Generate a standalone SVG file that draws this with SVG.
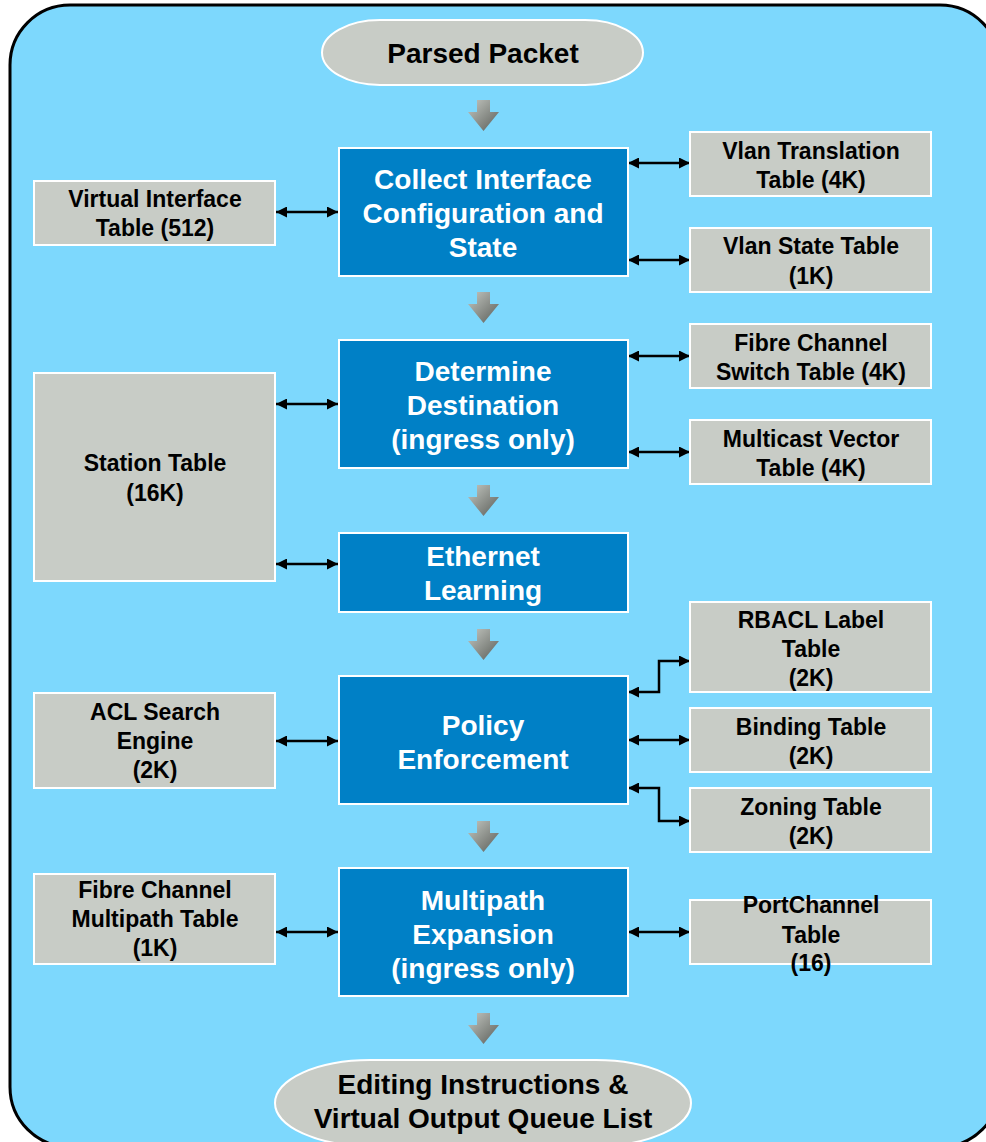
<svg xmlns="http://www.w3.org/2000/svg" width="986" height="1142" viewBox="0 0 986 1142">
<style>
.bg{fill:#7DD8FD;stroke:#000;stroke-width:3}
.blue{fill:#0080C6;stroke:#fff;stroke-width:2}
.gray{fill:#C8CCC6;stroke:#fff;stroke-width:2}
.bt{font-family:"Liberation Sans",Arial,sans-serif;font-weight:bold;font-size:28px;fill:#fff;text-anchor:middle}
.gt{font-family:"Liberation Sans",Arial,sans-serif;font-weight:bold;font-size:23px;fill:#000;text-anchor:middle}
.et{font-family:"Liberation Sans",Arial,sans-serif;font-weight:bold;font-size:28px;fill:#000;text-anchor:middle}
.con{fill:none;stroke:#000;stroke-width:2.5;marker-start:url(#ah);marker-end:url(#ah)}
.down{fill:url(#dg)}
</style>
<defs>
<marker id="ah" viewBox="0 0 10 10" refX="10" refY="5" markerWidth="5" markerHeight="4.4" markerUnits="strokeWidth" orient="auto-start-reverse">
<path d="M0,0 L10,5 L0,10 z" fill="#000"/>
</marker>
<linearGradient id="dg" x1="0" y1="0" x2="1" y2="1">
<stop offset="0" stop-color="#C4C8C2"/>
<stop offset="1" stop-color="#5A5D58"/>
</linearGradient>
<path id="darr" d="M-6.5,0 H6.5 V12 H15.5 L0,31 L-15.5,12 H-6.5 Z"/>
</defs>
<rect class="bg" x="10" y="5" width="990" height="1142" rx="60" ry="60"/>

<g id="down-arrows">
<use href="#darr" class="down" x="483.5" y="100"/>
<use href="#darr" class="down" x="483.5" y="292"/>
<use href="#darr" class="down" x="483.5" y="485"/>
<use href="#darr" class="down" x="483.5" y="629"/>
<use href="#darr" class="down" x="483.5" y="821"/>
<use href="#darr" class="down" x="483.5" y="1013"/>
</g>

<g id="connectors">
<line class="con" x1="276" y1="212" x2="338" y2="212"/>
<line class="con" x1="628" y1="163" x2="690" y2="163"/>
<line class="con" x1="628" y1="260" x2="690" y2="260"/>
<line class="con" x1="628" y1="356" x2="690" y2="356"/>
<line class="con" x1="628" y1="452" x2="690" y2="452"/>
<line class="con" x1="276" y1="404" x2="338" y2="404"/>
<line class="con" x1="276" y1="564" x2="338" y2="564"/>
<line class="con" x1="276" y1="741" x2="338" y2="741"/>
<polyline class="con" points="628,692 659,692 659,661 690,661"/>
<line class="con" x1="628" y1="740" x2="690" y2="740"/>
<polyline class="con" points="628,788 659,788 659,821 690,821"/>
<line class="con" x1="276" y1="932" x2="338" y2="932"/>
<line class="con" x1="628" y1="932" x2="690" y2="932"/>
</g>

<g id="parsed-packet">
<rect class="gray" x="322" y="20" width="321" height="65" rx="58" ry="32.5"/>
<text class="et" x="483" y="63">Parsed Packet</text>
</g>

<g id="collect-interface">
<rect class="blue" x="339" y="148" width="289" height="128"/>
<text class="bt" x="483" y="189">Collect Interface</text>
<text class="bt" x="483" y="223">Configuration and</text>
<text class="bt" x="483" y="257">State</text>
</g>

<g id="determine-destination">
<rect class="blue" x="339" y="340" width="289" height="128"/>
<text class="bt" x="483" y="381">Determine</text>
<text class="bt" x="483" y="415">Destination</text>
<text class="bt" x="483" y="449">(ingress only)</text>
</g>

<g id="ethernet-learning">
<rect class="blue" x="339" y="533" width="289" height="79"/>
<text class="bt" x="483" y="566">Ethernet</text>
<text class="bt" x="483" y="600">Learning</text>
</g>

<g id="policy-enforcement">
<rect class="blue" x="339" y="676" width="289" height="128"/>
<text class="bt" x="483" y="735">Policy</text>
<text class="bt" x="483" y="769">Enforcement</text>
</g>

<g id="multipath-expansion">
<rect class="blue" x="339" y="868" width="289" height="128"/>
<text class="bt" x="483" y="910">Multipath</text>
<text class="bt" x="483" y="944">Expansion</text>
<text class="bt" x="483" y="978">(ingress only)</text>
</g>

<g id="editing-instructions">
<rect class="gray" x="275" y="1060" width="416" height="86" rx="95" ry="43"/>
<text class="et" x="483" y="1094">Editing Instructions &amp;</text>
<text class="et" x="483" y="1128">Virtual Output Queue List</text>
</g>

<g id="virtual-interface-table">
<rect class="gray" x="34" y="181" width="241" height="64"/>
<text class="gt" x="155" y="207">Virtual Interface</text>
<text class="gt" x="155" y="236">Table (512)</text>
</g>

<g id="station-table">
<rect class="gray" x="34" y="373" width="241" height="208"/>
<text class="gt" x="155" y="471">Station Table</text>
<text class="gt" x="155" y="501">(16K)</text>
</g>

<g id="acl-search-engine">
<rect class="gray" x="34" y="693" width="241" height="95"/>
<text class="gt" x="155" y="720">ACL Search</text>
<text class="gt" x="155" y="749">Engine</text>
<text class="gt" x="155" y="778">(2K)</text>
</g>

<g id="fc-multipath-table">
<rect class="gray" x="34" y="874" width="241" height="90"/>
<text class="gt" x="155" y="898">Fibre Channel</text>
<text class="gt" x="155" y="927">Multipath Table</text>
<text class="gt" x="155" y="956">(1K)</text>
</g>

<g id="vlan-translation-table">
<rect class="gray" x="690" y="132" width="241" height="64"/>
<text class="gt" x="811" y="159">Vlan Translation</text>
<text class="gt" x="811" y="188">Table (4K)</text>
</g>

<g id="vlan-state-table">
<rect class="gray" x="690" y="228" width="241" height="64"/>
<text class="gt" x="811" y="254">Vlan State Table</text>
<text class="gt" x="811" y="284">(1K)</text>
</g>

<g id="fc-switch-table">
<rect class="gray" x="690" y="324" width="241" height="64"/>
<text class="gt" x="811" y="351">Fibre Channel</text>
<text class="gt" x="811" y="380">Switch Table (4K)</text>
</g>

<g id="multicast-vector-table">
<rect class="gray" x="690" y="420" width="241" height="64"/>
<text class="gt" x="811" y="447">Multicast Vector</text>
<text class="gt" x="811" y="476">Table (4K)</text>
</g>

<g id="rbacl-label-table">
<rect class="gray" x="690" y="602" width="241" height="90"/>
<text class="gt" x="811" y="628">RBACL Label</text>
<text class="gt" x="811" y="657">Table</text>
<text class="gt" x="811" y="686">(2K)</text>
</g>

<g id="binding-table">
<rect class="gray" x="690" y="708" width="241" height="64"/>
<text class="gt" x="811" y="735">Binding Table</text>
<text class="gt" x="811" y="764">(2K)</text>
</g>

<g id="zoning-table">
<rect class="gray" x="690" y="788" width="241" height="64"/>
<text class="gt" x="811" y="815">Zoning Table</text>
<text class="gt" x="811" y="844">(2K)</text>
</g>

<g id="portchannel-table">
<rect class="gray" x="690" y="900" width="241" height="64"/>
<text class="gt" x="811" y="913">PortChannel</text>
<text class="gt" x="811" y="943">Table</text>
<text class="gt" x="811" y="971">(16)</text>
</g>
</svg>
